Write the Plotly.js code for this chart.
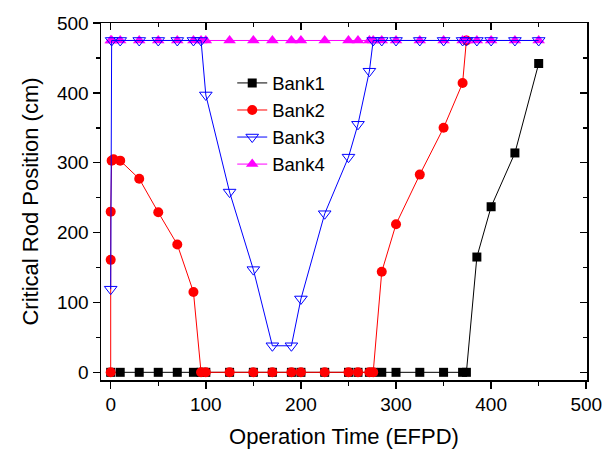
<!DOCTYPE html>
<html>
<head>
<meta charset="utf-8">
<script src="https://cdn.plot.ly/plotly-3.0.1.min.js"></script>
<style>html,body{margin:0;padding:0;background:#fff;}#chart{width:616px;height:450px;}</style>
</head>
<body>
<div id="chart"></div>
<script>
// Data
var bank1X = [0, 10, 30, 50, 70, 87, 95, 100, 125, 150, 170, 190, 200, 225, 250, 260, 272, 276, 285, 300, 325, 350, 370, 374, 385, 400, 425, 450];
var bank1Y = [0, 0, 0, 0, 0, 0, 0, 0, 0, 0, 0, 0, 0, 0, 0, 0, 0, 0, 0, 0, 0, 0, 0, 0, 165, 237, 314, 442];

var bank2X = [0, 0, 0, 1, 3, 10, 30, 50, 70, 87, 95, 100, 125, 150, 170, 190, 200, 225, 250, 260, 272, 276, 285, 300, 325, 350, 370, 374];
var bank2Y = [0, 161, 230, 303, 305, 303, 277, 229, 183, 115, 0, 0, 0, 0, 0, 0, 0, 0, 0, 0, 0, 0, 144, 212, 283, 350, 414, 475];

var bank3X = [0, 1, 10, 30, 50, 70, 87, 95, 100, 125, 150, 170, 190, 200, 225, 250, 260, 272, 276, 285, 300, 325, 350, 370, 374, 385, 400, 425, 450];
var bank3Y = [119, 475, 475, 475, 475, 475, 475, 475, 397, 258, 147, 38, 38, 105, 227, 308, 355, 431, 475, 475, 475, 475, 475, 475, 475, 475, 475, 475, 475];

var bank4X = [0, 1, 10, 30, 50, 70, 87, 95, 100, 125, 150, 170, 190, 200, 225, 250, 260, 272, 276, 285, 300, 325, 350, 370, 374, 385, 400, 425, 450];
var bank4Y = [475, 475, 475, 475, 475, 475, 475, 475, 475, 475, 475, 475, 475, 475, 475, 475, 475, 475, 475, 475, 475, 475, 475, 475, 475, 475, 475, 475, 475];

var seriesNames = ['Bank1', 'Bank2', 'Bank3', 'Bank4'];
var xTitle = 'Operation Time (EFPD)';
var yTitle = 'Critical Rod Position (cm)';

var FONT = 'Arial, "Liberation Sans", sans-serif';

var traces = [
  {x: bank1X, y: bank1Y, name: seriesNames[0], mode: 'lines+markers', legendrank: 1,
   line: {color: '#000000', width: 1}, marker: {symbol: 'square', size: 9, color: '#000000'}},
  {x: bank2X, y: bank2Y, name: seriesNames[1], mode: 'lines+markers', legendrank: 2,
   line: {color: '#ff0000', width: 1}, marker: {symbol: 'circle', size: 10, color: '#ff0000'}},
  {x: bank4X, y: bank4Y, name: seriesNames[3], mode: 'lines+markers', legendrank: 4,
   line: {color: '#ff00ff', width: 1}, marker: {symbol: 'triangle-up', size: 11, color: '#ff00ff'}},
  {x: bank3X, y: bank3Y, name: seriesNames[2], mode: 'lines+markers', legendrank: 3,
   line: {color: '#0000ff', width: 1}, marker: {symbol: 'triangle-down-open', size: 11, color: '#0000ff', line: {width: 1}}},
  {x: [], y: [], xaxis: 'x2', yaxis: 'y2', showlegend: false, hoverinfo: 'skip', mode: 'markers'}
];

var xr = [-10.2, 500.8];
var yr = [-11, 500];

var layout = {
  width: 616, height: 450,
  margin: {l: 101, r: 29, t: 23, b: 70, pad: 0},
  paper_bgcolor: '#ffffff', plot_bgcolor: '#ffffff',
  font: {family: FONT, color: '#000000', size: 19},
  showlegend: true,
  legend: {x: 0.27, y: 0.884, xanchor: 'left', yanchor: 'top', bgcolor: 'rgba(0,0,0,0)',
           borderwidth: 0, font: {size: 18.5, family: FONT}, traceorder: 'normal', itemwidth: 30, tracegroupgap: 0},
  xaxis: {range: xr, showgrid: false, zeroline: false, showline: true, linecolor: '#000', linewidth: 1.5,
          mirror: true, ticks: 'outside', ticklen: 7, tickwidth: 1.5, tickcolor: '#000', dtick: 100, tick0: 0,
          minor: {ticks: 'outside', ticklen: 4, tickwidth: 1.5, tickcolor: '#000', dtick: 50, showgrid: false},
          tickfont: {size: 19, family: FONT},
          title: {text: xTitle, font: {size: 22, family: FONT}, standoff: 14}},
  yaxis: {range: yr, showgrid: false, zeroline: false, showline: true, linecolor: '#000', linewidth: 1.5,
          mirror: true, ticks: 'outside', ticklen: 7, tickwidth: 1.5, tickcolor: '#000', dtick: 100, tick0: 0,
          minor: {ticks: 'outside', ticklen: 4, tickwidth: 1.5, tickcolor: '#000', dtick: 50, showgrid: false},
          tickfont: {size: 19, family: FONT},
          title: {text: yTitle, font: {size: 22, family: FONT}, standoff: 12}},
  xaxis2: {overlaying: 'x', side: 'top', range: xr, showgrid: false, zeroline: false, showline: false,
           ticks: 'inside', ticklen: 7, tickwidth: 1.5, tickcolor: '#000', dtick: 100, tick0: 0, showticklabels: false,
           minor: {ticks: 'inside', ticklen: 4, tickwidth: 1.5, tickcolor: '#000', dtick: 50, showgrid: false}},
  yaxis2: {overlaying: 'y', side: 'right', range: yr, showgrid: false, zeroline: false, showline: false,
           ticks: 'inside', ticklen: 7, tickwidth: 1.5, tickcolor: '#000', dtick: 100, tick0: 0, showticklabels: false,
           minor: {ticks: 'inside', ticklen: 4, tickwidth: 1.5, tickcolor: '#000', dtick: 50, showgrid: false}}
};

Plotly.newPlot('chart', traces, layout, {displayModeBar: false, staticPlot: true});
</script>
</body>
</html>
